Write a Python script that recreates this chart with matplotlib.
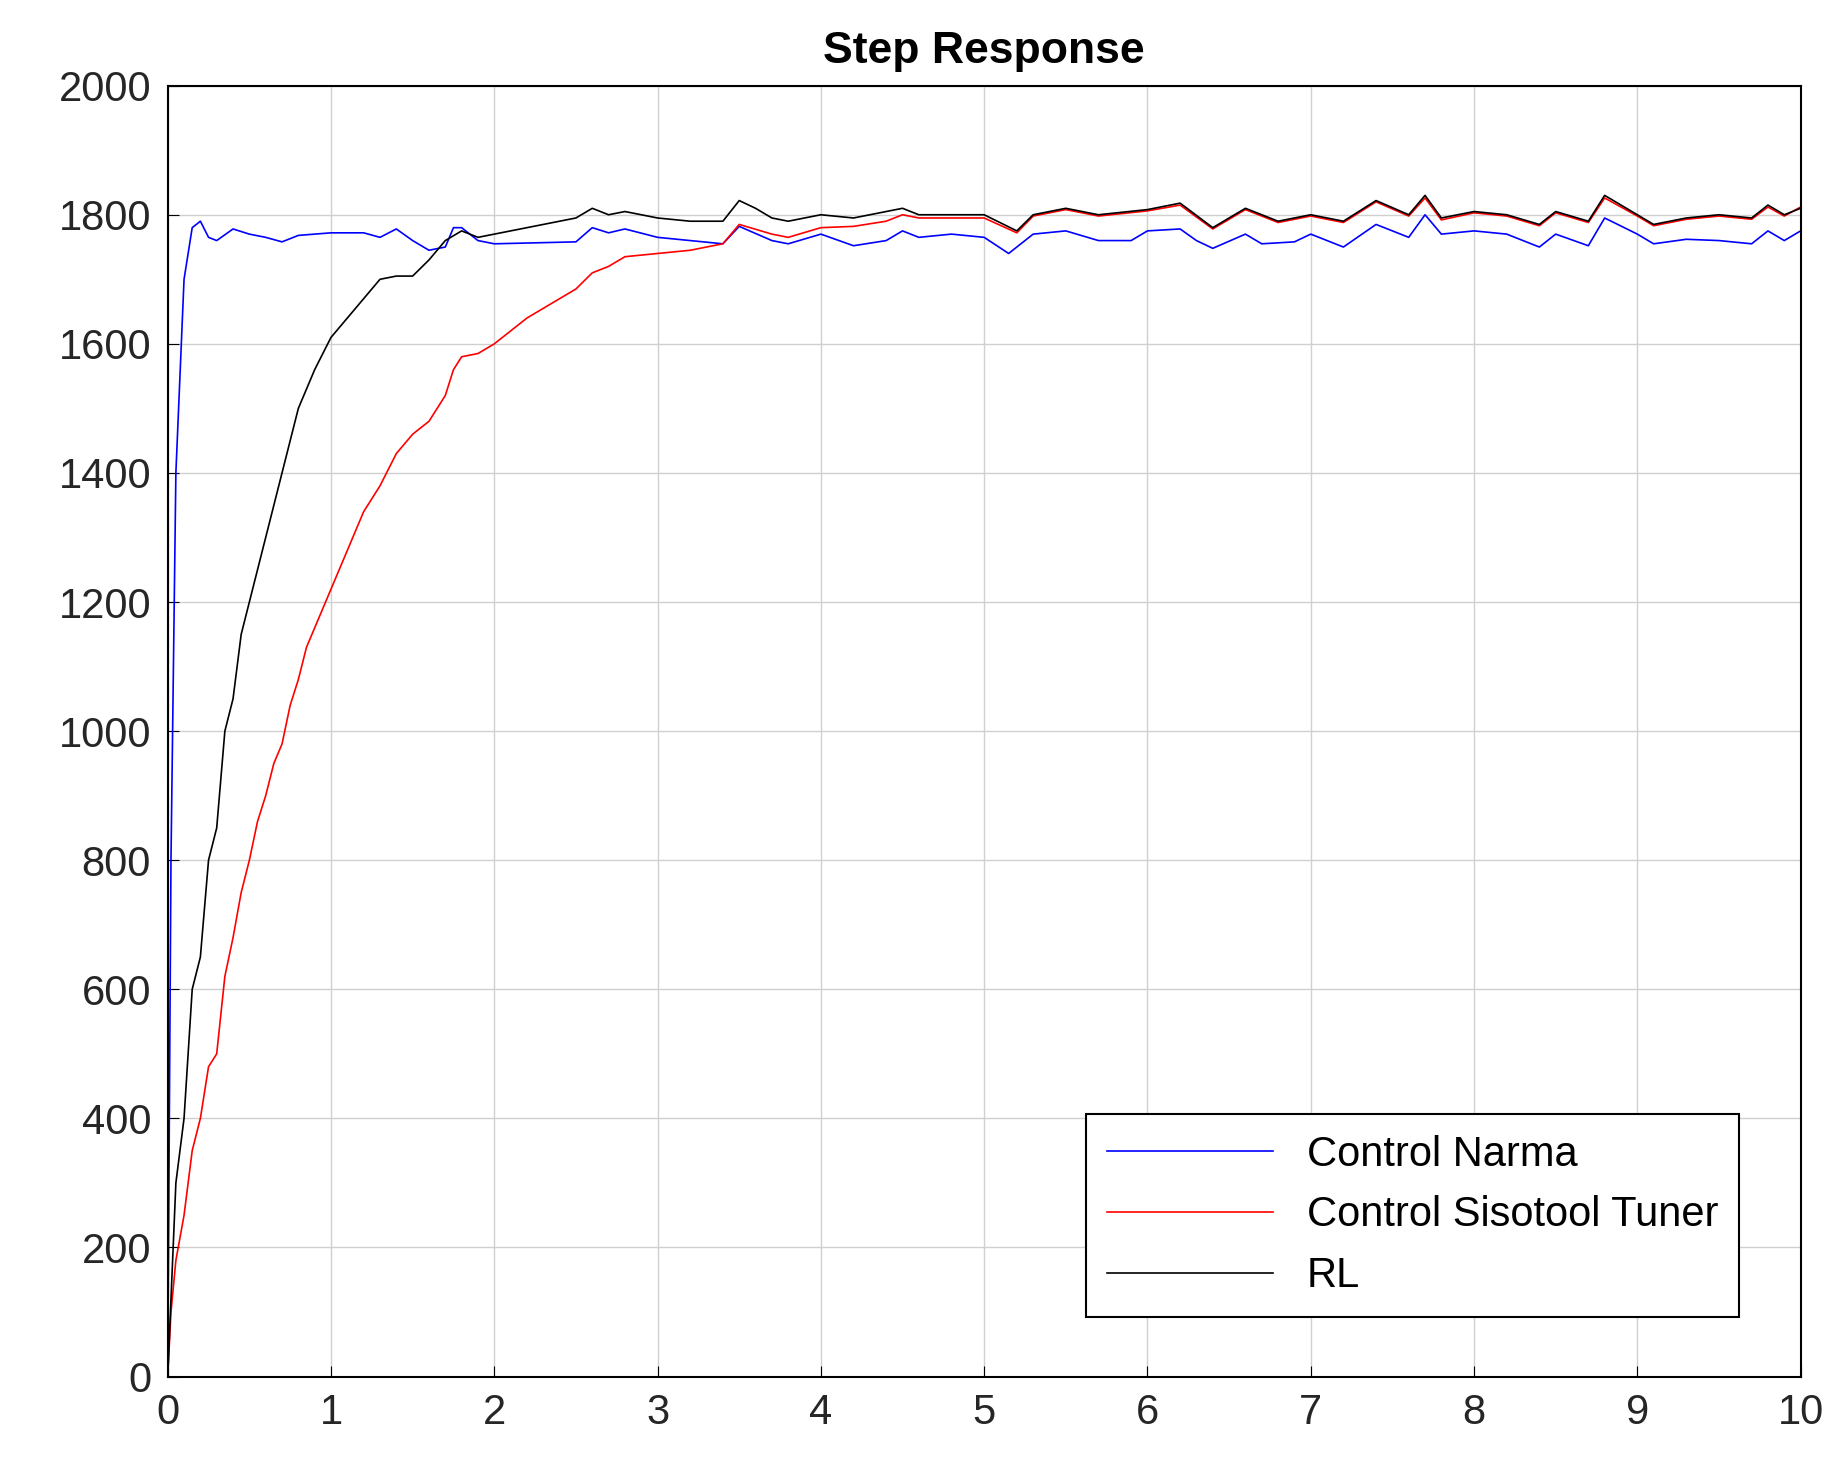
import matplotlib
matplotlib.use("Agg")
import matplotlib.pyplot as plt
plt.rcParams['font.family'] = ['Liberation Sans', 'DejaVu Sans']

narma_t = [0,0.02,0.05,0.1,0.15,0.2,0.25,0.3,0.4,0.5,0.6,0.7,0.8,0.9,1.0,1.2,1.3,1.4,1.5,1.6,1.7,1.75,1.8,1.9,2.0,2.5,2.6,2.7,2.8,3.0,3.2,3.4,3.5,3.7,3.8,4.0,4.2,4.4,4.5,4.6,4.8,5.0,5.15,5.3,5.5,5.7,5.9,6.0,6.2,6.3,6.4,6.6,6.7,6.9,7.0,7.2,7.4,7.6,7.7,7.8,8.0,8.2,8.4,8.5,8.7,8.8,9.0,9.1,9.3,9.5,9.7,9.8,9.9,10]
narma_y = [0,800,1400,1700,1780,1790,1765,1760,1778,1770,1765,1758,1768,1770,1772,1772,1765,1778,1760,1745,1750,1780,1780,1760,1755,1758,1780,1772,1778,1765,1760,1755,1782,1760,1755,1770,1752,1760,1775,1765,1770,1765,1740,1770,1775,1760,1760,1775,1778,1760,1748,1770,1755,1758,1770,1750,1785,1765,1800,1770,1775,1770,1750,1770,1752,1795,1770,1755,1762,1760,1755,1775,1760,1775]

rl_t = [0,0.05,0.1,0.15,0.2,0.25,0.3,0.35,0.4,0.45,0.5,0.55,0.6,0.65,0.7,0.75,0.8,0.9,1.0,1.1,1.2,1.3,1.4,1.5,1.6,1.7,1.8,1.9,2.0,2.2,2.4,2.5,2.6,2.7,2.8,3.0,3.2,3.4,3.5,3.6,3.7,3.8,4.0,4.2,4.4,4.5,4.6,4.8,5.0,5.2,5.3,5.5,5.7,6.0,6.2,6.4,6.6,6.8,7.0,7.2,7.4,7.6,7.7,7.8,8.0,8.2,8.4,8.5,8.7,8.8,9.0,9.1,9.3,9.5,9.7,9.8,9.9,10]
rl_y = [0,300,400,600,650,800,850,1000,1050,1150,1200,1250,1300,1350,1400,1450,1500,1560,1610,1640,1670,1700,1705,1705,1730,1760,1775,1765,1770,1780,1790,1795,1810,1800,1805,1795,1790,1790,1822,1810,1795,1790,1800,1795,1805,1810,1800,1800,1800,1775,1800,1810,1800,1808,1818,1780,1810,1790,1800,1790,1822,1800,1830,1795,1805,1800,1785,1805,1790,1830,1800,1785,1795,1800,1795,1815,1800,1810]

siso_t = [0,0.02,0.05,0.1,0.15,0.2,0.25,0.3,0.35,0.4,0.45,0.5,0.55,0.6,0.65,0.7,0.75,0.8,0.85,0.9,1.0,1.1,1.2,1.3,1.4,1.5,1.6,1.7,1.75,1.8,1.9,2.0,2.2,2.4,2.5,2.6,2.7,2.8,3.0,3.2,3.4,3.5,3.7,3.8,4.0,4.2,4.4,4.5,4.6,4.8,5.0,5.2,5.3,5.5,5.7,6.0,6.2,6.4,6.6,6.8,7.0,7.2,7.4,7.6,7.7,7.8,8.0,8.2,8.4,8.5,8.7,8.8,9.0,9.1,9.3,9.5,9.7,9.8,9.9,10]
siso_y = [0,100,180,250,350,400,480,500,620,680,750,800,860,900,950,980,1040,1080,1130,1160,1220,1280,1340,1380,1430,1460,1480,1520,1560,1580,1585,1600,1640,1670,1685,1710,1720,1735,1740,1745,1755,1785,1770,1765,1780,1782,1790,1800,1795,1795,1795,1772,1798,1808,1798,1806,1815,1778,1808,1788,1798,1788,1820,1798,1826,1792,1803,1798,1783,1803,1788,1826,1798,1783,1793,1798,1793,1812,1798,1812]

fig = plt.figure(figsize=(18.43, 14.77), dpi=100)
ax = fig.add_axes([0.091, 0.068, 0.886, 0.874])
ax.plot(narma_t, narma_y, color="blue", lw=1.2, label="Control Narma")
ax.plot(siso_t, siso_y, color="red", lw=1.2, label="Control Sisotool Tuner")
ax.plot(rl_t, rl_y, color="black", lw=1.2, label="RL")
ax.set_xlim(0, 10)
ax.set_ylim(0, 2000)
ax.set_xticks(range(0, 11))
ax.set_yticks(range(0, 2001, 200))
ax.grid(True, color="#d0d0d0", lw=1)
ax.tick_params(labelsize=30, direction="in", length=8, labelcolor="#262626", pad=12)
for s in ax.spines.values():
    s.set_linewidth(1.5)
ax.set_title("Step Response", fontsize=32, fontweight="bold", pad=16)
leg = ax.legend(loc="lower right", fontsize=30, fancybox=False, edgecolor="black",
                framealpha=1, borderpad=0.5, handlelength=4, bbox_to_anchor=(0.975, 0.03))
leg.get_frame().set_linewidth(1.5)
fig.savefig("out.png", dpi=100)
